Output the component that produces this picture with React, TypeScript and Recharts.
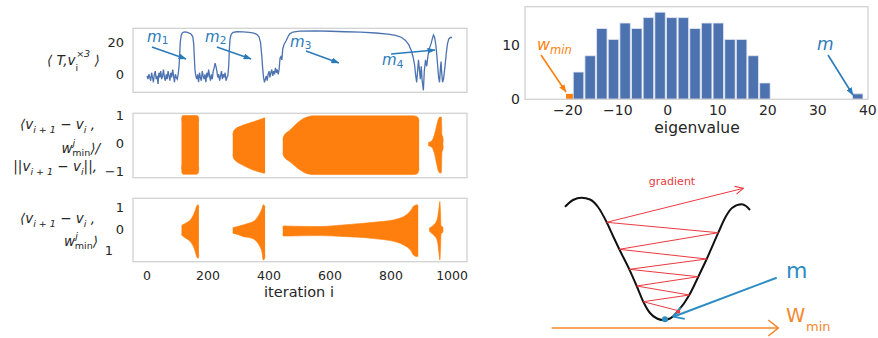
import React from 'react';
import {
  LineChart,
  Line,
  AreaChart,
  Area,
  BarChart,
  Bar,
  XAxis,
  YAxis,
  ReferenceLine,
  ReferenceDot,
  ReferenceArea,
} from 'recharts';

type Env = [number, number, number][]; // [iteration, lower, upper]

const FONT = '"DejaVu Sans", sans-serif';
const INK = '#262626';
const SEA_BLUE = '#4c72b0';
const ANN_BLUE = '#2b7bba';
const ORANGE = '#ff7f0e';
const FRAME = '#d2d2d2';
const RED = '#ea3a40';
const M_BLUE = '#2b8cc4';
const W_ORANGE = '#f5882e';

// shared iteration axis of the three left panels
const ITER_DOMAIN: [number, number] = [-46, 1049];
const ITER_TICKS = [0, 200, 400, 600, 800, 1000];

// <T, v_i^x3> trace (iteration, value)
const tensorTrace: [number, number][] = [
  [0, -1], [3, -3], [6, 0], [9, -2], [12, -4], [15, 1], [18, -2], [21, -5], [24, 0], [27, 2],
  [30, -3], [33, -1], [36, -6], [39, 1], [42, -2], [45, 2], [48, -3], [51, -1], [54, 3], [57, -2],
  [60, -4], [63, 0], [66, -3], [69, 2], [72, -1], [75, -4], [78, 1], [81, -2], [84, 3], [87, -1],
  [90, -5], [93, 0], [96, -2], [99, -3], [102, 0],
  [105, 5], [107, 12], [109, 20], [112, 24.5], [116, 26], [122, 26.5], [130, 26.3], [138, 25.8],
  [145, 25], [150, 23.5], [153, 19], [155, 11], [157, 3],
  [160, -1], [163, -3], [166, 0], [169, -5], [172, 1], [175, -2], [178, -4], [181, 2], [184, -1],
  [187, -3], [190, 0], [193, -5], [196, 1], [199, -2], [202, 3], [205, -1], [208, -4], [211, 0],
  [214, -3], [217, 2], [220, 4], [223, 7], [226, 5], [229, 2], [232, -2], [235, 0], [238, -4],
  [241, -1], [244, 2], [247, -3], [250, 0], [253, -2], [256, 1], [259, -4], [262, -2], [265, -1],
  [268, 6], [270, 16], [272, 22], [276, 25], [282, 26.2], [295, 26.6], [315, 26.5], [335, 26.2],
  [350, 25.7], [360, 25], [367, 23.5], [372, 20], [376, 12], [379, 4], [382, -2], [385, -5],
  [388, -3], [391, -1], [394, -4], [397, 0], [400, 2], [403, -2], [406, 1], [409, 3], [412, -1],
  [415, 2], [418, 0], [421, 4], [424, 1], [427, 3], [430, 0], [433, 3], [436, 10], [439, 11], [442, 9],
  [445, 16], [450, 19], [456, 21], [462, 23.5], [468, 25.3], [478, 26.4], [500, 27], [550, 27.1],
  [600, 26.9], [650, 26.6], [700, 26.3], [750, 25.8], [790, 25.1], [815, 24.3], [835, 23],
  [848, 21], [858, 18.5], [866, 15], [872, 11], [877, 6],
  [881, -1], [884, -5], [887, 2], [890, 9], [893, 3], [896, -3], [899, 5], [902, -4], [906, -10],
  [909, 2], [913, 9], [917, 5], [920, 10], [923, 14], [927, 17], [931, 19], [935, 22], [939, 24.5],
  [943, 23], [947, 18], [950, 12], [953, 5], [956, -2], [959, -5], [962, 4], [964, 8], [966, 1],
  [969, -5], [972, -3], [975, 2], [978, 7], [981, 13], [985, 19], [989, 22], [994, 23], [1000, 23],
];

// m1..m4 annotation arrows: [tail iter, tail value, head iter, head value]
const mArrows: [number, number, number, number][] = [
  [16, 17.1, 128, 9.6],
  [229, 17.1, 341, 9.6],
  [521, 14.6, 629, 7.1],
  [800, 12.7, 944, 15.2],
];

// normalised projection <v_{i+1}-v_i, w_min>/||.|| : envelopes of the oscillation bursts
const ratioBurst1: Env = [
  [113, -0.8, 0.8], [114, -1.0, 0.92], [116, -1.07, 0.97], [120, -1.09, 0.98],
  [160, -1.09, 0.98], [166, -1.07, 0.97], [169, -1.0, 0.92], [170, -0.85, 0.8],
];
const ratioBurst2: Env = [
  [281, -0.4, 0.3], [283, -0.5, 0.4], [287, -0.58, 0.48], [292, -0.63, 0.53], [305, -0.72, 0.6],
  [331, -0.86, 0.7], [348, -0.94, 0.76], [365, -1.0, 0.82], [380, -1.04, 0.88], [385, -1.05, 0.9],
  [387, -1.0, 0.86],
];
const ratioBurst3: Env = [
  [445, -0.35, 0.14], [448, -0.45, 0.25], [469, -0.65, 0.47], [502, -0.94, 0.8], [520, -1.05, 0.91],
  [535, -1.09, 0.96], [545, -1.1, 0.97], [870, -1.1, 0.97], [884, -1.08, 0.95], [889, -1.02, 0.9],
  [892, -0.9, 0.8],
];
const ratioBurst4: Env = [
  [922, -0.08, 0.03], [933, -0.13, 0.08], [942, -0.35, 0.3], [950, -0.75, 0.65], [956, -1.0, 0.88],
  [961, -1.05, 0.93], [965, -1.02, 0.92], [967, -0.3, 0.3], [970, -0.22, 0.22], [971, -0.05, 0.05],
];

// raw projection <v_{i+1}-v_i, w_min>
const projBurst1: Env = [
  [113, -0.28, 0.14], [118, -0.34, 0.2], [128, -0.44, 0.28], [136, -0.51, 0.34], [145, -0.64, 0.47],
  [152, -0.82, 0.65], [158, -1.05, 0.85], [163, -1.3, 1.08], [168, -1.36, 1.12], [170, -1.2, 1.0],
];
const projBurst2: Env = [
  [281, -0.2, 0.06], [300, -0.27, 0.12], [316, -0.36, 0.19], [335, -0.4, 0.27], [348, -0.46, 0.34],
  [360, -0.6, 0.5], [370, -0.82, 0.73], [377, -1.1, 0.95], [381, -1.44, 1.12], [385, -1.4, 1.08],
  [387, -1.2, 1.0],
];
const projBurst3: Env = [
  [445, -0.25, 0.06], [447, -0.33, 0.14], [500, -0.32, 0.12], [567, -0.31, 0.11], [640, -0.35, 0.18],
  [709, -0.4, 0.26], [760, -0.47, 0.33], [797, -0.54, 0.39], [825, -0.64, 0.48], [841, -0.74, 0.57],
  [858, -0.9, 0.75], [867, -1.05, 0.9], [873, -1.21, 1.04], [886, -1.29, 1.12], [889, -1.2, 1.05],
];
const projBurst4: Env = [
  [925, -0.1, 0.04], [933, -0.2, 0.1], [941, -0.3, 0.2], [948, -0.42, 0.33], [953, -0.65, 0.55],
  [957, -1.1, 0.95], [960, -1.44, 1.27], [962, -1.0, 0.85], [964, -0.22, 0.14], [969, -0.17, 0.1],
  [971, -0.05, 0.02],
];

// eigenvalue histogram
const binCenters = [
  -17.94, -15.61, -13.28, -10.95, -8.62, -6.29, -3.96, -1.63, 0.7, 3.03, 5.36, 7.69, 10.02, 12.35,
  14.68, 17.01, 19.34,
];
const binCounts = [5, 8, 13, 11, 14, 13, 15, 16, 15, 15, 13, 14, 14, 11, 11, 8, 3];
const BIN_WIDTH = 2.33;
const wminBin = { from: -20.36, to: -18.03, count: 1 };
const mBin = { x: 37.9, count: 1 };
const EIG_TICKS = [-20, -10, 0, 10, 20, 30, 40];
const COUNT_TICKS = [0, 10];

// schematic: well profile (u, w), zig-zag gradient path, m direction, w_min axis
const wellU = [-98, -90, -81.3, -73, -65, -56.3, -50, -43.7, -33.7, -26.3, -19.7, -13, -6, 0, 7, 15.3, 26.3, 35.3, 43.7, 55.3, 62, 69, 78.7, 83, 87];
const wellW = [121.3, 128, 130.3, 128.5, 121, 105.7, 92, 78.7, 58.7, 42, 26.3, 15, 9.5, 8, 9.5, 17.3, 33, 51.3, 69, 95.3, 110, 120, 123.7, 122, 118];
const zigU = [15.3, -19.7, 26.3, -26.3, 35.3, -33.7, 43.7, -43.7, 55.3, -56.3];
const zigW = [17.3, 26.3, 33, 42, 51.3, 58.7, 69, 78.7, 95.3, 105.7];
const gradientTip = { u: 80.3, w: 139.7 };
const mLine = { from: { u: 113.7, w: 50.3 }, to: { u: 10.3, w: 11.3 } };
const wminAxis = { from: { u: -111.3, w: 0 }, to: { u: 115.3, w: 0 } };

const toRows = (xs: number[], ys: number[]) => xs.map((u, k) => ({ u, w: ys[k] }));

function envRows(bursts: Env[]) {
  const rows: any[] = [];
  bursts.forEach((b, k) =>
    b.forEach(([i, lo, hi]) => rows.push({ i, ['b' + k]: [lo, hi] }))
  );
  return rows.sort((a, b) => a.i - b.i);
}

const traceRows = tensorTrace.map(([i, v]) => ({ i, v }));
const ratioRows = envRows([ratioBurst1, ratioBurst2, ratioBurst3, ratioBurst4]);
const projRows = envRows([projBurst1, projBurst2, projBurst3, projBurst4]);
const histRows = [
  ...binCenters.map((x, k) => ({ x, n: binCounts[k] })),
  { x: mBin.x, n: mBin.count },
];

const minus = (v: number) => (v < 0 ? '\u2212' + Math.abs(v) : String(v));

const makeTick = (labels: Record<number, string>, shift: Record<number, number>, size = 13) =>
  (p: any) => {
    const v = p.payload.value;
    return (
      <text
        x={p.x + (shift[v] ?? 0)}
        y={p.y}
        dy="0.36em"
        textAnchor="end"
        fontSize={size}
        fill={INK}
        fontFamily={FONT}
      >
        {labels[v] ?? minus(v)}
      </text>
    );
  };

const leftY = {
  width: 133,
  axisLine: false,
  tickLine: false,
  tickSize: 0,
  tickMargin: 9,
  interval: 0 as const,
  allowDataOverflow: true,
};

const box = (left: number, top: number): React.CSSProperties => ({
  position: 'absolute',
  left,
  top,
});

function App() {
  const burstKeys = ['b0', 'b1', 'b2', 'b3'];
  return (
    <div
      style={{
        position: 'absolute',
        left: 0,
        top: 0,
        width: 878,
        height: 338,
        background: '#fff',
        overflow: 'hidden',
        fontFamily: FONT,
      }}
    >
      <svg width={0} height={0} style={{ position: 'absolute' }}>
        <defs>
          <marker id="headBlue" viewBox="0 0 8 6" refX="7.5" refY="3" markerWidth="8" markerHeight="6" orient="auto" markerUnits="userSpaceOnUse">
            <path d="M0,0 L8,3 L0,6 Z" fill={ANN_BLUE} />
          </marker>
          <marker id="headOrange" viewBox="0 0 8 6" refX="7.5" refY="3" markerWidth="8" markerHeight="6" orient="auto" markerUnits="userSpaceOnUse">
            <path d="M0,0 L8,3 L0,6 Z" fill={ORANGE} />
          </marker>
          <marker id="chevRed" viewBox="0 0 10 10" refX="9" refY="5" markerWidth="10" markerHeight="10" orient="auto" markerUnits="userSpaceOnUse">
            <path d="M1,1 L9,5 L1,9" fill="none" stroke={RED} strokeWidth="1.1" />
          </marker>
          <marker id="chevBlue" viewBox="0 0 12 14" refX="11" refY="7" markerWidth="12" markerHeight="14" orient="auto" markerUnits="userSpaceOnUse">
            <path d="M1,1 L11,7 L1,13" fill="none" stroke={M_BLUE} strokeWidth="1.8" />
          </marker>
          <marker id="chevOrange" viewBox="0 0 12 18" refX="11" refY="9" markerWidth="12" markerHeight="18" orient="auto" markerUnits="userSpaceOnUse">
            <path d="M1,1 L11,9 L1,17" fill="none" stroke={W_ORANGE} strokeWidth="1.6" />
          </marker>
        </defs>
      </svg>

      {/* panel 1: <T, v^x3> */}
      <div style={box(0, 0)}>
        <LineChart width={470} height={93} data={traceRows} margin={{ top: 28.3, right: 3, bottom: 0.7, left: 0 }}>
          <XAxis type="number" dataKey="i" domain={ITER_DOMAIN} hide allowDataOverflow />
          <YAxis {...leftY} domain={[-11.25, 28.75]} ticks={[0, 20]} tick={makeTick({}, {})} />
          <Line dataKey="v" type="linear" stroke={SEA_BLUE} strokeWidth={1.3} dot={false} activeDot={false} isAnimationActive={false} />
          {mArrows.map(([x1, y1, x2, y2], k) => (
            <ReferenceLine
              key={k}
              segment={[{ x: x1, y: y1 }, { x: x2, y: y2 }]}
              stroke={ANN_BLUE}
              strokeWidth={1.5}
              markerEnd="url(#headBlue)"
              ifOverflow="visible"
            />
          ))}
        </LineChart>
      </div>

      {/* panel 2: normalised projection */}
      <div style={box(0, 100)}>
        <AreaChart width={470} height={78} data={ratioRows} margin={{ top: 13.3, right: 3, bottom: 0.3, left: 0 }}>
          <XAxis type="number" dataKey="i" domain={ITER_DOMAIN} hide allowDataOverflow />
          <YAxis {...leftY} domain={[-1.21, 1.06]} ticks={[-1, 0, 1]} tick={makeTick({}, {})} />
          {burstKeys.map((k) => (
            <Area key={k} dataKey={k} type="monotone" stroke={ORANGE} strokeWidth={0.6} fill={ORANGE} fillOpacity={1} dot={false} activeDot={false} isAnimationActive={false} />
          ))}
        </AreaChart>
      </div>

      {/* panel 3: raw projection */}
      <div style={box(0, 190)}>
        <AreaChart width={470} height={112} data={projRows} margin={{ top: 8.3, right: 3, bottom: 0.3, left: 0 }}>
          <XAxis
            type="number"
            dataKey="i"
            domain={ITER_DOMAIN}
            ticks={ITER_TICKS}
            interval={0}
            allowDataOverflow
            axisLine={false}
            tickLine={false}
            tickSize={0}
            tickMargin={9}
            height={40}
            tick={{ fontSize: 12.5, fill: INK, fontFamily: FONT }}
          />
          <YAxis {...leftY} domain={[-1.52, 1.42]} ticks={[-1, 0, 1]} tick={makeTick({ [-1]: '1' }, { [-1]: -11 })} />
          {burstKeys.map((k) => (
            <Area key={k} dataKey={k} type="monotone" stroke={ORANGE} strokeWidth={0.6} fill={ORANGE} fillOpacity={1} dot={false} activeDot={false} isAnimationActive={false} />
          ))}
        </AreaChart>
      </div>

      {/* eigenvalue histogram */}
      <div style={box(480, 0)}>
        <BarChart width={398} height={140} data={histRows} barCategoryGap={0} margin={{ top: 6.7, right: 10, bottom: 0.7, left: 0 }}>
          <XAxis
            type="number"
            dataKey="x"
            domain={[-28.56, 40.04]}
            ticks={EIG_TICKS}
            interval={0}
            tickFormatter={minus}
            allowDataOverflow
            axisLine={false}
            tickLine={false}
            tickSize={0}
            tickMargin={5.5}
            height={40}
            tick={{ fontSize: 14, fill: INK, fontFamily: FONT }}
          />
          <YAxis
            domain={[0, 17]}
            ticks={COUNT_TICKS}
            interval={0}
            width={45}
            axisLine={false}
            tickLine={false}
            tickSize={0}
            tickMargin={5}
            allowDataOverflow
            tick={makeTick({}, {}, 14)}
          />
          <ReferenceArea x1={wminBin.from} x2={wminBin.to} y1={0} y2={wminBin.count} fill={ORANGE} fillOpacity={1} stroke="none" ifOverflow="visible" />
          <Bar dataKey="n" fill={SEA_BLUE} stroke="#e6e9f3" strokeWidth={0.8} barSize={BIN_WIDTH * 5} isAnimationActive={false} />
          <ReferenceLine segment={[{ x: -25.36, y: 8.13 }, { x: -20.36, y: 1.34 }]} stroke={ORANGE} strokeWidth={1.6} markerEnd="url(#headOrange)" ifOverflow="visible" />
          <ReferenceLine segment={[{ x: 32.04, y: 8.13 }, { x: 37.04, y: 0.79 }]} stroke={ANN_BLUE} strokeWidth={1.6} markerEnd="url(#headBlue)" ifOverflow="visible" />
        </BarChart>
      </div>

      {/* schematic of the loss valley */}
      <div style={box(530, 160)}>
        <LineChart width={348} height={178} margin={{ top: 0, right: 0, bottom: 0, left: 0 }}>
          <XAxis type="number" dataKey="u" domain={[-133, 215]} hide allowDataOverflow />
          <YAxis type="number" domain={[-10, 168]} hide allowDataOverflow />
          <Line data={toRows(wellU, wellW)} dataKey="w" type="monotone" stroke="#111" strokeWidth={2} dot={false} activeDot={false} isAnimationActive={false} />
          <Line data={toRows(zigU, zigW)} dataKey="w" type="linear" stroke={RED} strokeWidth={1} dot={false} activeDot={false} isAnimationActive={false} />
          <ReferenceLine
            segment={[{ x: zigU[zigU.length - 1], y: zigW[zigW.length - 1] }, { x: gradientTip.u, y: gradientTip.w }]}
            stroke={RED}
            strokeWidth={1}
            markerEnd="url(#chevRed)"
            ifOverflow="visible"
          />
          <ReferenceLine
            segment={[{ x: mLine.from.u, y: mLine.from.w }, { x: mLine.to.u, y: mLine.to.w }]}
            stroke={M_BLUE}
            strokeWidth={2}
            markerEnd="url(#chevBlue)"
            ifOverflow="visible"
          />
          <ReferenceLine
            segment={[{ x: wminAxis.from.u, y: wminAxis.from.w }, { x: wminAxis.to.u, y: wminAxis.to.w }]}
            stroke={W_ORANGE}
            strokeWidth={1.6}
            markerEnd="url(#chevOrange)"
            ifOverflow="visible"
          />
          <ReferenceDot x={15.3} y={16.3} r={2} fill={RED} stroke="none" ifOverflow="visible" />
          <ReferenceDot x={2} y={8.7} r={3} fill={M_BLUE} stroke="none" ifOverflow="visible" />
        </LineChart>
      </div>

      {/* frames and text */}
      <svg width={878} height={338} style={{ position: 'absolute', left: 0, top: 0, pointerEvents: 'none' }} fontFamily={FONT}>
        <g fill="none" stroke={FRAME} strokeWidth={1.3}>
          <rect x={133} y={28.3} width={334} height={64} />
          <rect x={133} y={113.3} width={334} height={64.4} />
          <rect x={133} y={198.3} width={334} height={63.4} />
          <rect x={525} y={6.7} width={343} height={92.6} />
        </g>

        {/* m labels in the top panel */}
        <g fill={ANN_BLUE} fontSize={15} fontStyle="italic">
          {[
            { x: 147, y: 41.5, n: '1' },
            { x: 205, y: 41.5, n: '2' },
            { x: 290, y: 46.5, n: '3' },
            { x: 382, y: 65, n: '4' },
          ].map((t) => (
            <text key={t.n} x={t.x} y={t.y}>
              m
              <tspan dy={2.5} fontSize={10.5} fontStyle="normal">
                {t.n}
              </tspan>
            </text>
          ))}
        </g>

        {/* left y labels */}
        <g fill={INK} fontSize={13.5} fontStyle="italic">
          <text x={47} y={65}>
            {'\u27E8 T,v'}
            <tspan dy={6} fontSize={9.5} fontStyle="normal">i</tspan>
            <tspan dx={-2} dy={-14} fontSize={9.5}>×3</tspan>
            <tspan dy={8}>{' \u27E9'}</tspan>
          </text>

          {[
            { x: 95, y: 129, head: '\u27E8v', tail: ' ,' },
            { x: 97, y: 171, head: '||v', tail: '||,' },
            { x: 95, y: 223, head: '\u27E8v', tail: ' ,' },
          ].map((l, k) => (
            <text key={k} x={l.x} y={l.y} textAnchor="end">
              {l.head}
              <tspan dy={3.5} fontSize={9.5}>i + 1</tspan>
              <tspan dy={-3.5}>{' \u2212 v'}</tspan>
              <tspan dy={3.5} fontSize={9.5}>i</tspan>
              <tspan dy={-3.5}>{l.tail}</tspan>
            </text>
          ))}

          {[
            { x: 100, y: 153, tail: '\u27E9/' },
            { x: 98, y: 246, tail: '\u27E9' },
          ].map((l, k) => (
            <text key={k} x={l.x} y={l.y} textAnchor="end">
              w
              <tspan dy={-7} fontSize={9.5}>j</tspan>
              <tspan dx={-3} dy={10} fontSize={9.5} fontStyle="normal">min</tspan>
              <tspan dy={-3}>{l.tail}</tspan>
            </text>
          ))}
        </g>

        <text x={299} y={297} textAnchor="middle" fontSize={14.5} fill={INK}>
          iteration i
        </text>

        {/* histogram labels */}
        <text x={697} y={133} textAnchor="middle" fontSize={15.5} fill={INK}>
          eigenvalue
        </text>
        <text x={537} y={50} fill={ORANGE} fontSize={16} fontStyle="italic">
          w
          <tspan dy={3.5} fontSize={11.5}>min</tspan>
        </text>
        <text x={817} y={50} fill={ANN_BLUE} fontSize={17} fontStyle="italic">
          m
        </text>

        {/* schematic labels */}
        <text x={672} y={185} textAnchor="middle" fontSize={11} fill={RED}>
          gradient
        </text>
        <text x={786} y={278} fontSize={22} fill={M_BLUE}>
          m
        </text>
        <text x={786} y={322} fontSize={19.5} fill={W_ORANGE}>
          W
          <tspan x={806} y={331} fontSize={13}>min</tspan>
        </text>
      </svg>
    </div>
  );
}

export default App;
